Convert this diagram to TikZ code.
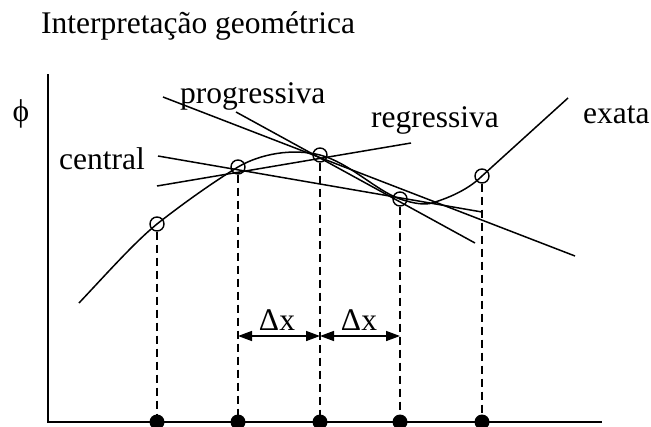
\documentclass[tikz,border=0pt]{standalone}
\usepackage{fontspec}
\setmainfont{Liberation Serif}
\usetikzlibrary{arrows.meta}
\begin{document}
\begin{tikzpicture}[x=1pt,y=-1pt,
  ln/.style={line width=1.5pt},
  lbl/.style={inner sep=0pt,anchor=base west,font=\fontsize{31.5}{36}\selectfont},
  pt/.style={circle,draw,line width=1.4pt,minimum size=14pt,inner sep=0pt},
  dot/.style={circle,fill,minimum size=15pt,inner sep=0pt},
  proj/.style={line width=1.5pt,dash pattern=on 8pt off 5pt},
  dim/.style={line width=1.5pt,{Triangle[length=14pt,width=10pt]}-{Triangle[length=14pt,width=10pt]}}]
\useasboundingbox (0,0) rectangle (651,426);
% title
\node[lbl] (title) at (41,33) {Interpretação geométrica};
% axes
\coordinate (ytop) at (48,74);
\coordinate (orig) at (48,422);
\coordinate (xend) at (602,422);
\draw[ln] (ytop) -- (orig) -- (xend);
\node[inner sep=0pt,font=\fontsize{31.5}{36}\selectfont] (phi) at (21,114) {ϕ};
% tangent / secant lines
\coordinate (a1) at (163,97);  \coordinate (a2) at (575,256);
\coordinate (b1) at (236,112); \coordinate (b2) at (475,243);
\coordinate (c1) at (158,156); \coordinate (c2) at (482,212);
\coordinate (d1) at (157,186); \coordinate (d2) at (411,143);
\draw[ln] (a1) -- (a2);
\draw[ln] (b1) -- (b2);
\draw[ln] (c1) -- (c2);
\draw[ln] (d1) -- (d2);
% exact curve
\coordinate (e0) at (79,303);
\coordinate (e9) at (568,98);
\draw[ln] (e0) .. controls (110,270) and (135,242) .. (157,224)
  .. controls (185,202) and (215,181) .. (238,167)
  .. controls (260,154) and (292,148) .. (320,155)
  .. controls (350,163) and (375,190) .. (400,199)
  .. controls (415,204) and (425,205) .. (432,203)
  .. controls (452,197) and (470,188) .. (482,176) -- (e9);
% labels
\node[lbl] (prog) at (180,103) {progressiva};
\node[lbl] (cent) at (59,169) {central};
\node[lbl] (regr) at (371,127) {regressiva};
\node[lbl] (exat) at (583,123) {exata};
% points
\node[pt] (p1) at (157,224) {};
\node[pt] (p2) at (238,167) {};
\node[pt] (p3) at (320,155) {};
\node[pt] (p4) at (400,199) {};
\node[pt] (p5) at (482,176) {};
\node[dot] (q1) at (157,422) {};
\node[dot] (q2) at (238,422) {};
\node[dot] (q3) at (320,422) {};
\node[dot] (q4) at (400,422) {};
\node[dot] (q5) at (482,422) {};
\foreach \i in {1,...,5} \draw[proj] (p\i.south) -- (q\i.center);
% delta x
\coordinate (m2) at (238,336);
\coordinate (m3) at (320,336);
\coordinate (m4) at (400,336);
\draw[dim] (m2) -- (m3);
\draw[dim] (m3) -- (m4);
\node[lbl,anchor=base] (dx1) at (277,330) {Δx};
\node[lbl,anchor=base] (dx2) at (359,330) {Δx};
\end{tikzpicture}
\end{document}
